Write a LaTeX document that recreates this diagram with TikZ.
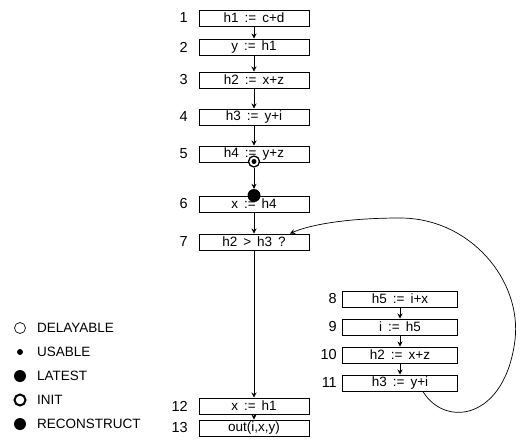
\documentclass[tikz,border=0pt]{standalone}
\usepackage{fontspec}
\setmainfont{Liberation Sans}
\usetikzlibrary{arrows.meta}
\begin{document}
\begin{tikzpicture}[x=1pt,y=-1pt,
  stmt/.style={draw, line width=1pt, minimum height=16pt, inner sep=0pt, font=\fontsize{13.5}{13.5}\selectfont},
  lstmt/.style={stmt, minimum width=110pt},
  rstmt/.style={stmt, minimum width=115pt},
  num/.style={anchor=east, inner sep=0pt, font=\fontsize{14.5}{14.5}\selectfont},
  arr/.style={-{Stealth[length=5pt,width=5pt]}, line width=0.7pt},
  leg/.style={anchor=west, inner sep=0pt, font=\fontsize{13.5}{13.5}\selectfont}]
\useasboundingbox (0,0) rectangle (520,440);
% left column
\node[lstmt] (n1) at (254,18) {h1 \,:=\, c+d};
\node[lstmt] (n2) at (254,47) {y \,:=\, h1};
\node[lstmt] (n3) at (254,80) {h2 \,:=\, x+z};
\node[lstmt] (n4) at (254,117) {h3 \,:=\, y+i};
\node[lstmt] (n5) at (254,154) {h4 \,:=\, y+z};
\node[lstmt] (n6) at (254,204) {x \,:=\, h4};
\node[lstmt] (n7) at (254,242) {h2 \,>\, h3 \,?};
\node[lstmt] (n12) at (254,406) {x \,:=\, h1};
\node[lstmt] (n13) at (254,428) {out(i,x,y)};
% right column
\node[rstmt] (n8) at (400,299) {h5 \,:=\, i+x};
\node[rstmt] (n9) at (400,327) {i \,:=\, h5};
\node[rstmt] (n10) at (400,355) {h2 \,:=\, x+z};
\node[rstmt] (n11) at (400,383) {h3 \,:=\, y+i};
% numbers
\node[num] (l1) at (188,18) {1};
\node[num] (l2) at (188,47) {2};
\node[num] (l3) at (188,80) {3};
\node[num] (l4) at (188,117) {4};
\node[num] (l5) at (188,154) {5};
\node[num] (l6) at (188,204) {6};
\node[num] (l7) at (188,242) {7};
\node[num] (l12) at (188,406) {12};
\node[num] (l13) at (188,428) {13};
\node[num] (l8) at (337,299) {8};
\node[num] (l9) at (337,327) {9};
\node[num] (l10) at (337,355) {10};
\node[num] (l11) at (337,383) {11};
% markers
\node[circle, draw, line width=1.3pt, minimum size=11pt, inner sep=0pt, fill=white] (m5) at ([yshift=1pt]n5.south) {};
\node[circle, fill, minimum size=5pt, inner sep=0pt] (m5d) at (m5) {};
\node[circle, fill, minimum size=13pt, inner sep=0pt] (m6) at (n6.north) {};
% edges
\draw[arr] (n1) -- (n2);
\draw[arr] (n2) -- (n3);
\draw[arr] (n3) -- (n4);
\draw[arr] (n4) -- (n5);
\draw[arr] (m5) -- (m6);
\draw[arr] (n6) -- (n7);
\draw[arr] (n7) -- (n12);
\draw[arr] (n12) -- (n13);
\draw[arr] (n8) -- (n9);
\draw[arr] (n9) -- (n10);
\draw[arr] (n10) -- (n11);
\draw[arr] ([xshift=23pt]n11.south) .. controls (445,428) and (505,420) .. (515,340)
  .. controls (522,280) and (470,218) .. (400,218)
  .. controls (350,218) and (312,224) .. ([xshift=36pt]n7.north);
% legend
\node[circle, draw, line width=0.7pt, minimum size=11pt, inner sep=0pt] (s1) at (20,328) {};
\node[circle, fill, minimum size=6pt, inner sep=0pt] (s2) at (20,352) {};
\node[circle, fill, minimum size=12pt, inner sep=0pt] (s3) at (20,376) {};
\node[circle, draw, line width=2pt, minimum size=11pt, inner sep=0pt] (s4) at (20,400) {};
\node[circle, fill, minimum size=12pt, inner sep=0pt] (s5) at (20,424) {};
\node[leg] (t1) at (37,328) {DELAYABLE};
\node[leg] (t2) at (37,352) {USABLE};
\node[leg] (t3) at (37,376) {LATEST};
\node[leg] (t4) at (37,400) {INIT};
\node[leg] (t5) at (37,424) {RECONSTRUCT};
\end{tikzpicture}
\end{document}
